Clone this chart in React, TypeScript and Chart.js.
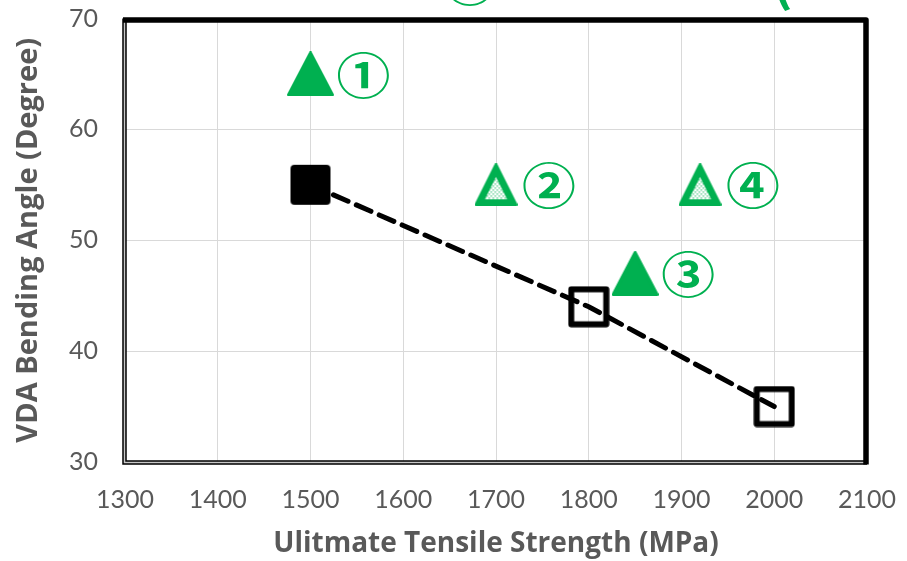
import { useEffect, useRef } from 'react';
import { Chart, registerables } from 'chart.js';

Chart.register(...registerables);

// ---- data ----
const xMin = 1300;
const xMax = 2100;
const xStep = 100;
const yMin = 30;
const yMax = 70;
const yStep = 10;

const squareX = [1500, 1800, 2000];
const squareY = [55, 44, 35];
const squareFilled = [true, false, false];

const triX = [1500, 1700, 1850, 1920];
const triY = [65, 55, 47, 55];
const triDotted = [false, true, false, true];
const triLabels = ['①', '②', '③', '④'];

// partially visible (clipped) green text above the plot
const topTexts = ['①', '('];
const topTextX = [1672, 2009];
const topTextY = 73.3;

const xTitle = 'Ulitmate Tensile Strength (MPa)';
const yTitle = 'VDA Bending Angle (Degree)';

const GREEN = '#00B050';
const TEXT = '#595959';
const TICK_FONT = 'Lato, "Open Sans", sans-serif';
const TITLE_FONT = '"Open Sans", Lato, sans-serif';

// ---- marker images ----
function makeSquare(filled: boolean): HTMLCanvasElement {
  const c = document.createElement('canvas');
  c.width = 42;
  c.height = 42;
  const ctx = c.getContext('2d')!;
  if (filled) {
    ctx.fillStyle = '#000';
    ctx.beginPath();
    (ctx as any).roundRect(1, 1, 40, 40, 4);
    ctx.fill();
  } else {
    ctx.strokeStyle = '#000';
    ctx.lineWidth = 6;
    ctx.lineJoin = 'round';
    ctx.strokeRect(3.5, 3.5, 35, 35);
  }
  return c;
}

function triPath(ctx: CanvasRenderingContext2D, pts: number[][]) {
  ctx.beginPath();
  ctx.moveTo(pts[0][0], pts[0][1]);
  ctx.lineTo(pts[1][0], pts[1][1]);
  ctx.lineTo(pts[2][0], pts[2][1]);
  ctx.closePath();
}

function insetTri(pts: number[][], d: number): number[][] {
  const [A, B, C] = pts;
  const a = Math.hypot(B[0] - C[0], B[1] - C[1]);
  const b = Math.hypot(A[0] - C[0], A[1] - C[1]);
  const cc = Math.hypot(A[0] - B[0], A[1] - B[1]);
  const p = a + b + cc;
  const ix = (a * A[0] + b * B[0] + cc * C[0]) / p;
  const iy = (a * A[1] + b * B[1] + cc * C[1]) / p;
  const area = Math.abs((B[0] - A[0]) * (C[1] - A[1]) - (C[0] - A[0]) * (B[1] - A[1])) / 2;
  const r = (2 * area) / p;
  const f = (r - d) / r;
  return pts.map(([x, y]) => [ix + (x - ix) * f, iy + (y - iy) * f]);
}

function makeTriangle(dotted: boolean): HTMLCanvasElement {
  const c = document.createElement('canvas');
  const w = dotted ? 43 : 47;
  const h = dotted ? 43 : 45;
  c.width = w;
  c.height = h;
  const ctx = c.getContext('2d')!;
  const pts = [
    [w / 2, 1.5],
    [1.5, h - 1.5],
    [w - 1.5, h - 1.5],
  ];
  ctx.fillStyle = GREEN;
  ctx.strokeStyle = GREEN;
  ctx.lineWidth = 3;
  ctx.lineJoin = 'round';
  triPath(ctx, pts);
  ctx.fill();
  ctx.stroke();
  if (dotted) {
    const tile = document.createElement('canvas');
    tile.width = 4;
    tile.height = 4;
    const tc = tile.getContext('2d')!;
    tc.fillStyle = '#ffffff';
    tc.fillRect(0, 0, 4, 4);
    tc.fillStyle = 'rgba(0,176,80,0.6)';
    tc.fillRect(0, 0, 1.5, 1.5);
    tc.fillRect(2, 2, 1.5, 1.5);
    const pat = ctx.createPattern(tile, 'repeat')!;
    ctx.fillStyle = pat;
    triPath(ctx, insetTri(pts, 5.5));
    ctx.fill();
  }
  return c;
}

export default function App() {
  const ref = useRef<HTMLCanvasElement | null>(null);

  useEffect(() => {
    document.body.style.margin = '0';
    const canvas = ref.current!;
    const squareImgs = squareFilled.map((f) => makeSquare(f));
    const triImgs = triDotted.map((d) => makeTriangle(d));

    const framePlugin = {
      id: 'frame',
      beforeDatasetsDraw(chart: any) {
        const { ctx, chartArea: a } = chart;
        ctx.save();
        ctx.strokeStyle = '#000';
        ctx.lineWidth = 4.5;
        ctx.beginPath();
        ctx.moveTo(a.left - 0.5, a.top);
        ctx.lineTo(a.left - 0.5, a.bottom + 0.5);
        ctx.lineTo(a.right, a.bottom + 0.5);
        ctx.stroke();
        ctx.strokeStyle = '#c8c8c8';
        ctx.lineWidth = 1.5;
        ctx.stroke();
        ctx.strokeStyle = '#000';
        ctx.lineWidth = 5.5;
        ctx.lineJoin = 'round';
        ctx.beginPath();
        ctx.moveTo(a.left - 2, a.top + 1.5);
        ctx.lineTo(a.right - 1, a.top + 1.5);
        ctx.lineTo(a.right - 1, a.bottom + 2.5);
        ctx.stroke();
        ctx.restore();
      },
    };

    const labelPlugin = {
      id: 'triLabels',
      afterDatasetsDraw(chart: any) {
        const { ctx } = chart;
        const meta = chart.getDatasetMeta(1);
        ctx.save();
        ctx.fillStyle = GREEN;
        ctx.font = 'bold 49px "Noto Sans CJK JP", "DejaVu Sans", sans-serif';
        ctx.textAlign = 'center';
        ctx.textBaseline = 'middle';
        meta.data.forEach((pt: any, i: number) => {
          ctx.save();
          ctx.translate(pt.x + 53, pt.y + 1);
          ctx.scale(1.1, 1);
          ctx.fillText(triLabels[i], 0, 0);
          ctx.restore();
        });
        const xs = chart.scales.x;
        const ys = chart.scales.y;
        topTexts.forEach((t, i) => {
          ctx.save();
          ctx.translate(xs.getPixelForValue(topTextX[i]), ys.getPixelForValue(topTextY));
          ctx.scale(1.1, 1);
          ctx.fillText(t, 0, 0);
          ctx.restore();
        });
        ctx.restore();
      },
    };

    const zeroPad = (s: any) => {
      s.paddingTop = 0;
      s.paddingBottom = 0;
      s.paddingLeft = 0;
      s.paddingRight = 0;
    };

    const chart = new Chart(canvas, {
      type: 'scatter',
      data: {
        datasets: [
          {
            label: 'squares',
            data: squareX.map((x, i) => ({ x, y: squareY[i] })),
            showLine: true,
            borderColor: '#000',
            borderWidth: 5,
            borderDash: [16, 9],
            borderCapStyle: 'round',
            pointStyle: squareImgs as any,
            pointRadius: 20,
            backgroundColor: '#000',
          },
          {
            label: 'triangles',
            data: triX.map((x, i) => ({ x, y: triY[i] })),
            showLine: false,
            pointStyle: triImgs as any,
            pointRadius: 22,
            backgroundColor: GREEN,
          },
        ],
      },
      options: {
        responsive: false,
        animation: false,
        layout: { autoPadding: false, padding: { top: 18.5, right: 40, left: 0, bottom: 0 } },
        plugins: {
          legend: { display: false },
          tooltip: { enabled: false },
        },
        scales: {
          x: {
            type: 'linear',
            min: xMin,
            max: xMax,
            ticks: {
              stepSize: xStep,
              color: TEXT,
              font: { family: TICK_FONT, size: 25 },
              padding: 23,
              callback: (v: any) => String(v),
            },
            grid: { color: '#D9D9D9', lineWidth: 1, drawTicks: false },
            border: { display: false },
            title: {
              display: true,
              text: xTitle,
              color: TEXT,
              font: { family: TITLE_FONT, size: 28, weight: 'bold' },
              padding: { top: 0, bottom: 0 },
            },
            afterFit: (s: any) => {
              s.height = 99;
              zeroPad(s);
            },
          },
          y: {
            type: 'linear',
            min: yMin,
            max: yMax,
            ticks: {
              stepSize: yStep,
              color: TEXT,
              font: { family: TICK_FONT, size: 25 },
              padding: 27,
              callback: (v: any) => String(v),
            },
            grid: { color: '#D9D9D9', lineWidth: 1, drawTicks: false },
            border: { display: false },
            title: {
              display: true,
              text: yTitle,
              color: TEXT,
              font: { family: TITLE_FONT, size: 29, weight: 'bold' },
              padding: { top: 11, bottom: 0 },
            },
            afterFit: (s: any) => {
              s.width = 125;
              zeroPad(s);
            },
          },
        },
      },
      plugins: [framePlugin, labelPlugin],
    });
    return () => chart.destroy();
  }, []);

  return (
    <canvas
      ref={ref}
      width={907}
      height={561}
      style={{ display: 'block', width: 907, height: 561 }}
    />
  );
}
